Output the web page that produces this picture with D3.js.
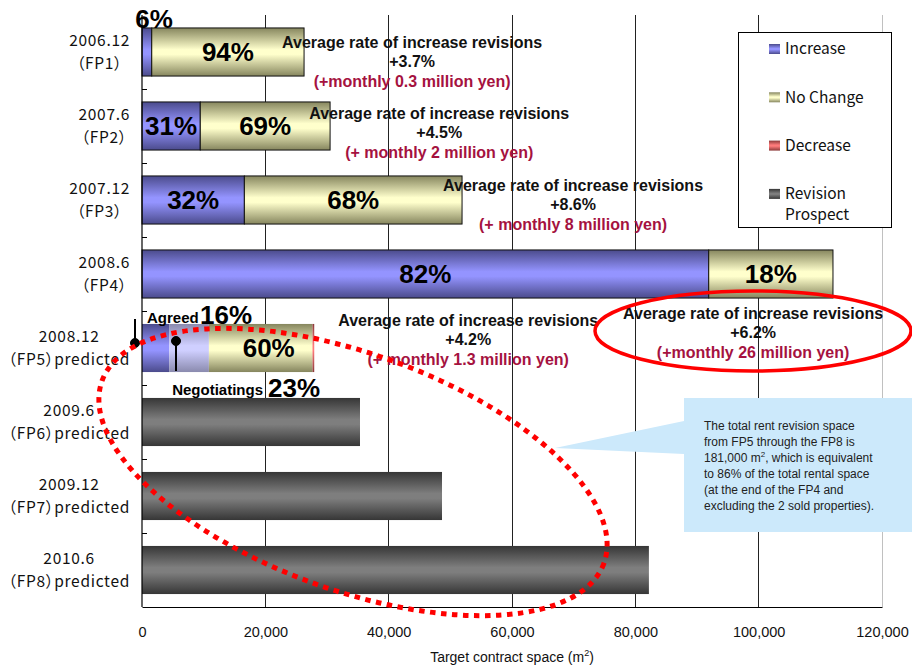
<!DOCTYPE html>
<html>
<head>
<meta charset="utf-8">
<script src="https://cdn.jsdelivr.net/npm/d3@7"></script>
<style>
  body { margin: 0; background: #fff; }
  svg { display: block; }
  .cat text { font-feature-settings: "palt"; letter-spacing: 0.7px; }
</style>
</head>
<body>
<svg id="chart" width="912" height="666"></svg>
<script>
// ---- data -------------------------------------------------------------
const periods    = ["2006.12", "2007.6", "2007.12", "2008.6", "2008.12", "2009.6", "2009.12", "2010.6"];
const periodTags = ["（FP1）", "（FP2）", "（FP3）", "（FP4）",
                    "（FP5）predicted", "（FP6）predicted", "（FP7）predicted", "（FP8）predicted"];

// contract space in m², per period
const increaseAgreed = [1580, 9450, 16600, 91900, 4400, 0, 0, 0];
const increaseNegot  = [0, 0, 0, 0, 6450, 0, 0, 0];
const noChange       = [24700, 21050, 35300, 20150, 16800, 0, 0, 0];
const decrease       = [0, 0, 0, 0, 280, 0, 0, 0];
const prospect       = [0, 0, 0, 0, 0, 35350, 48650, 82200];

const xTicks = [0, 20000, 40000, 60000, 80000, 100000, 120000];

const legendLabels = [["Increase"], ["No Change"], ["Decrease"], ["Revision", "Prospect"]];

// average rate of increase revisions per fiscal period
const rateIndex  = [0, 1, 2, 3, 4];
const rateValues = ["+3.7%", "+4.5%", "+8.6%", "+6.2%", "+4.2%"];
const rateYen    = ["(+monthly 0.3 million yen)", "(+ monthly 2 million yen)",
                    "(+ monthly 8 million yen)", "(+monthly 26 million yen)",
                    "(+ monthly 1.3 million yen)"];

const noteLines = ["The total rent revision space",
                   "from FP5 through the FP8 is",
                   "181,000 m|2|, which is equivalent",
                   "to 86% of the total rental space",
                   "(at the end of the FP4 and",
                   "excluding the 2 sold properties)."];

// ---- layout -----------------------------------------------------------
const svg = d3.select("#chart");
const LATIN = "'Liberation Sans', Arial, sans-serif";
const GOTHIC = "'Noto Sans CJK JP', 'Noto Sans', sans-serif";

const x = d3.scaleLinear().domain([0, 120000]).range([142, 882]);
const y = d3.scaleBand().domain(d3.range(periods.length))
  .range([15, 607]).paddingInner(0.35).paddingOuter(0.175);
const bw = y.bandwidth();

// where each rate note sits: x in m², dy relative to the bar centre
const rateLayout = [
  { cx: 43800, dy: -10 }, { cx: 48200, dy: -13 }, { cx: 69900, dy: -15 },
  { cx: 99100, dy: 39 },  { cx: 52900, dy: -28 }
];

// ---- gradients (cylindrical shading) ----------------------------------
const defs = svg.append("defs");
function grad(id, edge, mid) {
  const g = defs.append("linearGradient").attr("id", id)
    .attr("x1", 0).attr("y1", 0).attr("x2", 0).attr("y2", 1);
  g.append("stop").attr("offset", "0%").attr("stop-color", edge);
  g.append("stop").attr("offset", "45%").attr("stop-color", mid);
  g.append("stop").attr("offset", "55%").attr("stop-color", mid);
  g.append("stop").attr("offset", "100%").attr("stop-color", edge);
}
grad("gInc", "#4b4b8c", "#9494ff");
grad("gNeg", "#8a8aae", "#cfcfff");
grad("gNo",  "#86865e", "#ffffcc");
grad("gDec", "#8c3a3a", "#ff7b7b");
grad("gPro", "#363636", "#7e7e7e");

// ---- gridlines --------------------------------------------------------
svg.append("g").selectAll("line").data(xTicks.slice(1)).join("line")
  .attr("x1", d => x(d)).attr("x2", d => x(d))
  .attr("y1", 15).attr("y2", 607)
  .attr("stroke", d => d === 120000 ? "#c0c0c0" : "#222")
  .attr("stroke-width", 1).attr("shape-rendering", "crispEdges");

// ---- stacked bars -----------------------------------------------------
const seriesDefs = [
  { key: "agreed",   values: increaseAgreed, fill: "url(#gInc)" },
  { key: "negot",    values: increaseNegot,  fill: "url(#gNeg)" },
  { key: "noChange", values: noChange,       fill: "url(#gNo)" },
  { key: "decrease", values: decrease,       fill: "url(#gDec)" },
  { key: "prospect", values: prospect,       fill: "url(#gPro)" }
];
const rows = periods.map((p, i) => {
  const r = { i };
  seriesDefs.forEach(s => r[s.key] = s.values[i]);
  return r;
});
const stacked = d3.stack().keys(seriesDefs.map(s => s.key))(rows);
const totals = rows.map(r => seriesDefs.reduce((a, s) => a + r[s.key], 0));

const barG = svg.append("g");
stacked.forEach((layer, li) => {
  barG.append("g").selectAll("rect")
    .data(layer.filter(d => d[1] - d[0] > 0))
    .join("rect")
    .attr("x", d => x(d[0]))
    .attr("y", d => y(d.data.i))
    .attr("width", d => x(d[1]) - x(d[0]))
    .attr("height", bw)
    .attr("fill", seriesDefs[li].fill)
    .attr("stroke", d => d.data.i < 4 ? "#111" : "none")
    .attr("stroke-width", 1);
});

// ---- percentage labels ------------------------------------------------
const pct = (v, i) => Math.round(v / totals[i] * 100) + "%";
const labG = svg.append("g")
  .attr("font-family", LATIN).attr("font-weight", "bold").attr("fill", "#000");
const bigLabel = (tx, ty, t, anchor) => labG.append("text")
  .attr("x", tx).attr("y", ty).attr("dy", "0.35em")
  .attr("text-anchor", anchor || "middle").attr("font-size", 26).text(t);

for (let i = 0; i < 4; i++) {
  const cy = y(i) + bw / 2;
  const incW = x(increaseAgreed[i]) - x(0);
  if (incW < 30) {
    bigLabel(x(0) + 12, y(i) - 9, pct(increaseAgreed[i], i));
  } else {
    bigLabel(x(increaseAgreed[i] / 2), cy, pct(increaseAgreed[i], i));
  }
  bigLabel(x(increaseAgreed[i] + noChange[i] / 2), cy, pct(noChange[i], i));
}
// FP5: agreed / negotiating split
{
  const i = 4, cy = y(i) + bw / 2;
  const ncStart = increaseAgreed[i] + increaseNegot[i];
  bigLabel(x(ncStart + noChange[i] / 2) + 8, cy, pct(noChange[i], i));
  labG.append("text").attr("x", x(0) + 5).attr("y", y(i) - 6).attr("dy", "0.35em")
    .attr("font-size", 15).text("Agreed");
  bigLabel(x(0) + 58, y(i) - 9, pct(increaseAgreed[i], i), "start");
  labG.append("text").attr("x", x(0) + 121).attr("y", y(i) + bw + 18).attr("dy", "0.35em")
    .attr("text-anchor", "end").attr("font-size", 15).text("Negotiatings");
  bigLabel(x(0) + 126, y(i) + bw + 16, pct(increaseNegot[i], i), "start");

  // pointer pins
  const pin = svg.append("g").attr("stroke", "#000").attr("fill", "#000");
  pin.append("line").attr("x1", x(0) - 7).attr("x2", x(0) - 7)
    .attr("y1", y(i) - 5).attr("y2", cy - 5).attr("stroke-width", 2);
  pin.append("circle").attr("cx", x(0) - 7).attr("cy", cy - 5).attr("r", 4.5);
  pin.append("line").attr("x1", x(0) + 34).attr("x2", x(0) + 34)
    .attr("y1", cy - 7).attr("y2", y(i) + bw - 1).attr("stroke-width", 2);
  pin.append("circle").attr("cx", x(0) + 34).attr("cy", cy - 7).attr("r", 4.5);
}

// ---- axes ---------------------------------------------------------------
const xAxis = svg.append("g").attr("transform", "translate(0,607)")
  .call(d3.axisBottom(x).tickValues(xTicks).tickSize(0).tickPadding(20)
    .tickFormat(d3.format(",")));
xAxis.select(".domain").attr("stroke", "#000").attr("stroke-width", 1.2);
xAxis.selectAll("text").attr("font-family", LATIN).attr("font-size", 14.5).attr("fill", "#111");

const xt = svg.append("text").attr("x", 512).attr("y", 662)
  .attr("text-anchor", "middle").attr("font-family", LATIN).attr("font-size", 14).attr("fill", "#111");
xt.append("tspan").text("Target contract space (m");
xt.append("tspan").attr("font-size", 9).attr("dy", -6).text("2");
xt.append("tspan").attr("dy", 6).text(")");

svg.append("line").attr("x1", 142).attr("x2", 142).attr("y1", 15).attr("y2", 607)
  .attr("stroke", "#000").attr("stroke-width", 1.2);
svg.append("g").selectAll("line").data(d3.range(1, periods.length)).join("line")
  .attr("x1", 142).attr("x2", 147)
  .attr("y1", i => y(i) - y.step() * y.paddingInner() / 2)
  .attr("y2", i => y(i) - y.step() * y.paddingInner() / 2)
  .attr("stroke", "#000").attr("shape-rendering", "crispEdges");

// category labels: two centred lines, block right-aligned to the axis
const catG = svg.append("g").attr("class", "cat")
  .attr("font-family", GOTHIC).attr("font-size", 15.5).attr("fill", "#111");
periods.forEach((p, i) => {
  const g = catG.append("g");
  const t1 = g.append("text").attr("y", y(i) + bw / 2 - 11.25).attr("dy", "0.35em")
    .attr("text-anchor", "middle").text(p);
  const t2 = g.append("text").attr("y", y(i) + bw / 2 + 11.25).attr("dy", "0.35em")
    .attr("text-anchor", "middle").text(periodTags[i]);
  const w = Math.max(t1.node().getComputedTextLength(), t2.node().getComputedTextLength());
  g.attr("transform", `translate(${130 - w / 2},0)`);
});

// ---- rate notes -----------------------------------------------------------
const noteG = svg.append("g").attr("font-family", LATIN).attr("font-weight", "bold")
  .attr("font-size", 16).attr("text-anchor", "middle");
rateIndex.forEach((bi, k) => {
  const cx = x(rateLayout[k].cx);
  const y0 = y(bi) + bw / 2 + rateLayout[k].dy;
  noteG.append("text").attr("x", cx).attr("y", y0).attr("dy", "0.35em")
    .attr("fill", "#111").text("Average rate of increase revisions");
  noteG.append("text").attr("x", cx).attr("y", y0 + 19.5).attr("dy", "0.35em")
    .attr("fill", "#111").text(rateValues[k]);
  noteG.append("text").attr("x", cx).attr("y", y0 + 39).attr("dy", "0.35em")
    .attr("fill", "#a5123f").text(rateYen[k]);
});

// ---- highlight ellipses ---------------------------------------------------
svg.append("ellipse").attr("cx", 753).attr("cy", 331).attr("rx", 158).attr("ry", 40)
  .attr("fill", "none").attr("stroke", "#ff0000").attr("stroke-width", 3.5);
svg.append("ellipse").attr("cx", 0).attr("cy", 0).attr("rx", 267).attr("ry", 118)
  .attr("transform", "translate(353,472) rotate(20)")
  .attr("fill", "none").attr("stroke", "#ff0000").attr("stroke-width", 5)
  .attr("stroke-dasharray", "5.5 5.5");

// ---- callout ------------------------------------------------------------
svg.append("path")
  .attr("d", "M684,398 H912 V532 H684 V454 L555,448 L684,421 Z")
  .attr("fill", "#cce9fb");
const callG = svg.append("g").attr("font-family", LATIN).attr("font-size", 12).attr("fill", "#222");
noteLines.forEach((ln, k) => {
  const t = callG.append("text").attr("x", 704).attr("y", 426 + k * 16).attr("dy", "0.35em");
  const parts = ln.split("|");
  t.append("tspan").text(parts[0]);
  if (parts.length > 1) {
    t.append("tspan").attr("font-size", 8).attr("dy", -5).text(parts[1]);
    t.append("tspan").attr("dy", 5).text(parts[2]);
  }
});

// ---- legend -------------------------------------------------------------
const leg = svg.append("g");
leg.append("rect").attr("x", 738.5).attr("y", 32.5).attr("width", 153).attr("height", 195)
  .attr("fill", "#fff").attr("stroke", "#000").attr("stroke-width", 1);
const legFills = ["url(#gInc)", "url(#gNo)", "url(#gDec)", "url(#gPro)"];
legendLabels.forEach((lines, k) => {
  const cy = 49 + k * 48.3;
  leg.append("rect").attr("x", 769).attr("y", cy - 5).attr("width", 11).attr("height", 10)
    .attr("fill", legFills[k]);
  lines.forEach((ln, j) => {
    leg.append("text").attr("x", 785).attr("y", cy + j * 21).attr("dy", "0.35em")
      .attr("font-family", GOTHIC).attr("font-size", 15.5).attr("fill", "#111").text(ln);
  });
});
</script>
</body>
</html>
